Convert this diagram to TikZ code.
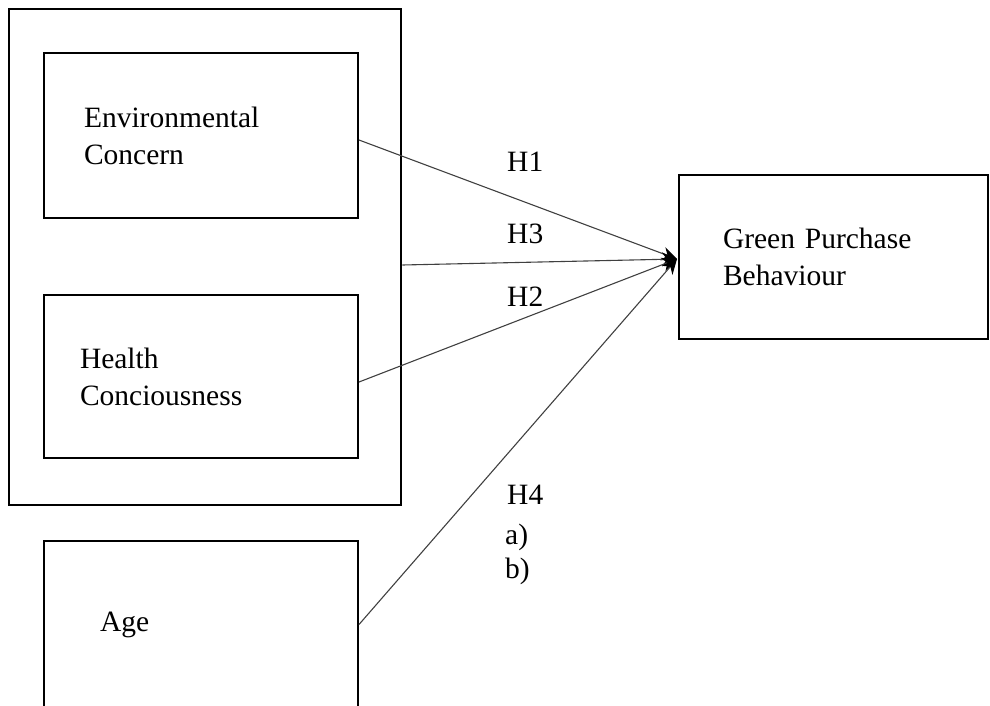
\documentclass[tikz,border=0pt]{standalone}
\usepackage{fontspec}
\setmainfont{Liberation Serif}
\usepackage{tikz}
\usetikzlibrary{arrows.meta,positioning}

\begin{document}
\begin{tikzpicture}[x=1pt, y=-1pt, >={Stealth[length=15pt,width=14pt,black]},
    font=\fontsize{29.5}{37}\selectfont,
    box/.style={draw, line width=2pt, align=left, inner ysep=0pt},
    link/.style={->, draw=black!75, line width=1.1pt},
    hyp/.style={anchor=base west, inner sep=0pt}]
        \useasboundingbox (0,0) rectangle (990,705);
        \clip (0,0) rectangle (990,705);
        \node[draw, line width=2.6pt, minimum width=392pt, minimum height=496pt] (frame) at (205,257) {};
        \node[box, inner xsep=40pt, text width=234pt, minimum height=165pt] (ec) at (201,135.5) {Environmental\\Concern};
        \node[box, inner xsep=36pt, text width=242pt, minimum height=163pt, below=75pt of ec] (hc) {Health\\Conciousness};
        \node[box, inner xsep=56pt, text width=202pt, minimum height=167pt, below=81pt of hc] (age) {Age};
        \node[box, inner xsep=44pt, text width=221pt, minimum height=164pt] (gpb) at (833.5,257) {Green Purchase\\Behaviour};
        \coordinate (tip) at ([xshift=-1pt,yshift=-2pt]gpb.west);
        \draw[link] ([yshift=-4.5pt]ec.east) -- (tip);
        \draw[link] ([yshift=-8pt]frame.east) -- (tip);
        \draw[link] ([yshift=-5.5pt]hc.east) -- (tip);
        \draw[link] (age.east) -- (tip);
        \node[hyp] (h1) at (507,171) {H1};
        \node[hyp] (h3) at (507,243) {H3};
        \node[hyp] (h2) at (507,306) {H2};
        \node[hyp] (h4) at (507,504) {H4};
        \node[hyp] (h4a) at (505,544) {a)};
        \node[hyp] (h4b) at (505,578) {b)};
      \end{tikzpicture}
\end{document}
